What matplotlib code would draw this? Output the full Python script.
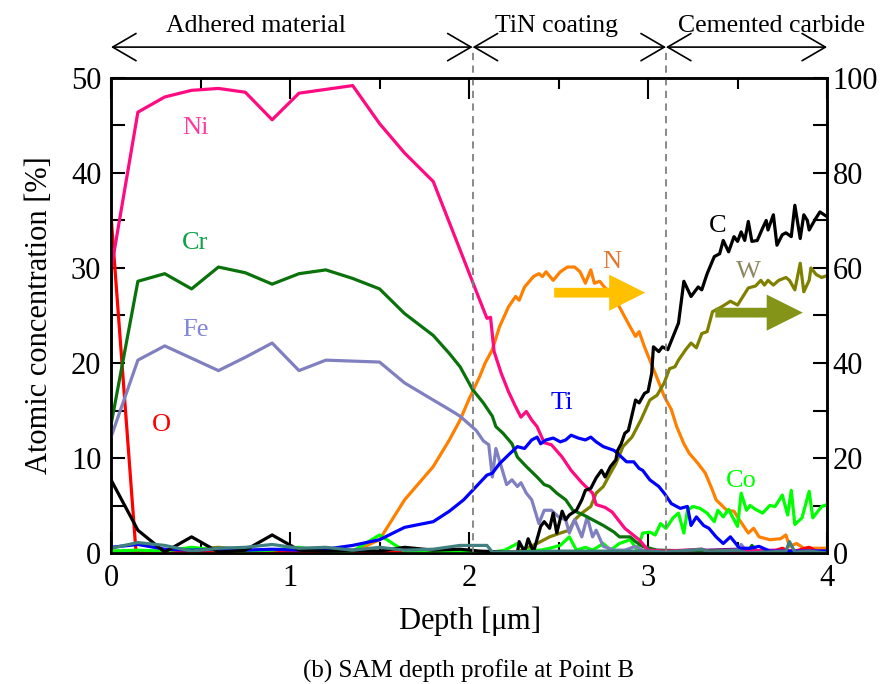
import numpy as np
import matplotlib.pyplot as plt
from matplotlib.ticker import MultipleLocator

plt.rcParams['font.family'] = ['Liberation Serif', 'DejaVu Serif']
plt.rcParams['mathtext.fontset'] = 'custom'
plt.rcParams['mathtext.rm'] = 'Liberation Serif'

# Profiles: [depth (um), atomic concentration (%)]
# left axis (0-50 %)
ni_prof = np.array([[0, 29.8], [0.15, 46.4], [0.30, 48.0], [0.45, 48.7], [0.60, 48.9], [0.75, 48.5],
                    [0.90, 45.6], [1.05, 48.4], [1.20, 48.8], [1.35, 49.2], [1.50, 45.2], [1.64, 42.1],
                    [1.80, 39.1], [1.95, 31.9], [2.06, 26.6], [2.10, 24.7], [2.12, 24.8], [2.14, 21.2],
                    [2.18, 18.9], [2.22, 17.0], [2.26, 15.4], [2.29, 14.3], [2.32, 14.9], [2.35, 14.0],
                    [2.38, 13.3], [2.42, 11.6], [2.46, 11.4], [2.52, 10.1], [2.57, 8.7], [2.63, 7.4],
                    [2.69, 6.3], [2.71, 5.1], [2.76, 4.8], [2.80, 4.3], [2.87, 2.6], [2.95, 1.4],
                    [3.00, 0.3], [3.10, 0.2], [3.30, 0.4], [3.35, 0.1], [3.70, 0.3], [4.00, 0.2]])
cr_prof = np.array([[0, 13.5], [0.15, 28.6], [0.30, 29.4], [0.45, 27.8], [0.60, 30.1], [0.75, 29.5],
                    [0.90, 28.3], [1.05, 29.4], [1.20, 29.8], [1.35, 28.9], [1.50, 27.8], [1.64, 25.2],
                    [1.80, 22.9], [1.89, 21.0], [1.95, 19.6], [2.02, 17.2], [2.08, 15.8], [2.13, 14.4],
                    [2.15, 13.3], [2.19, 12.6], [2.24, 11.5], [2.27, 10.1], [2.32, 9.1], [2.38, 8.0],
                    [2.42, 7.2], [2.45, 7.0], [2.49, 6.3], [2.54, 5.6], [2.58, 4.5], [2.64, 4.0],
                    [2.69, 3.5], [2.75, 2.9], [2.81, 2.2], [2.84, 1.7], [2.90, 1.7], [2.93, 1.2],
                    [2.97, 0.7], [3.05, 0.3], [3.30, 0.2], [3.56, 0.2], [3.58, 0.8], [3.61, 0.1],
                    [4.00, 0.2]])
fe_prof = np.array([[0, 12.2], [0.15, 20.3], [0.30, 21.8], [0.45, 20.5], [0.60, 19.2], [0.75, 20.6],
                    [0.90, 22.1], [1.05, 19.2], [1.20, 20.3], [1.35, 20.2], [1.50, 20.1], [1.64, 17.9],
                    [1.80, 16.1], [1.89, 15.1], [1.95, 14.4], [2.04, 12.9], [2.08, 11.8], [2.11, 11.4],
                    [2.13, 8.0], [2.15, 11.0], [2.18, 9.1], [2.21, 7.2], [2.24, 7.7], [2.27, 7.0],
                    [2.29, 7.4], [2.32, 6.3], [2.35, 5.6], [2.39, 3.1], [2.42, 4.5], [2.46, 4.5],
                    [2.50, 3.8], [2.54, 3.5], [2.56, 2.1], [2.59, 3.5], [2.63, 1.7], [2.66, 3.8],
                    [2.69, 1.7], [2.71, 2.4], [2.75, 0.7], [2.81, 0.3], [2.87, 0.3], [2.93, 0.7],
                    [2.97, 0.3], [3.30, 0.2], [3.50, 0.3], [3.52, 0.9], [3.55, 0.2], [4.00, 0.2]])
o_prof = np.array([[0, 35.5], [0.14, 0.0], [0.30, 0.1], [1.00, 0.1], [2.00, 0.1], [3.00, 0.1],
                   [3.70, 0.2], [3.75, 0.5], [3.80, 0.1], [3.90, 0.6], [3.95, 0.1], [4.00, 0.2]])
c_prof = np.array([[0, 7.7], [0.15, 2.4], [0.30, 0.1], [0.45, 1.7], [0.60, 0.1], [0.75, 0.3],
                   [0.90, 1.9], [1.05, 0.3], [1.20, 0.2], [1.35, 0.3], [1.50, 0.2], [1.64, 0.6],
                   [1.80, 0.3], [1.95, 0.4], [2.06, 0.2], [2.20, 0.1], [2.27, 0.0], [2.28, 1.2],
                   [2.31, 0.1], [2.33, 1.5], [2.36, 0.1], [2.40, 2.8], [2.42, 3.3], [2.45, 2.6],
                   [2.47, 4.2], [2.49, 2.1], [2.52, 4.4], [2.54, 3.5], [2.56, 4.0], [2.60, 4.5],
                   [2.63, 5.6], [2.65, 6.6], [2.68, 6.8], [2.71, 7.9], [2.74, 8.7], [2.76, 8.0],
                   [2.79, 9.1], [2.82, 9.8], [2.83, 10.8], [2.85, 11.5], [2.87, 12.6], [2.89, 12.9],
                   [2.93, 16.1], [2.95, 15.8], [2.98, 16.8], [3.00, 17.0], [3.02, 18.9], [3.03, 21.7],
                   [3.06, 21.2], [3.08, 21.7], [3.11, 21.4], [3.14, 22.8], [3.17, 24.2], [3.20, 28.6],
                   [3.24, 27.0], [3.28, 28.0], [3.30, 27.7], [3.33, 29.4], [3.37, 31.2], [3.40, 31.5],
                   [3.42, 32.9], [3.45, 31.7], [3.48, 33.3], [3.50, 32.8], [3.52, 33.8], [3.54, 32.9],
                   [3.56, 34.9], [3.58, 32.8], [3.61, 32.9], [3.64, 34.2], [3.66, 35.0], [3.67, 34.0],
                   [3.70, 35.6], [3.72, 32.4], [3.75, 33.5], [3.77, 33.7], [3.80, 33.3], [3.82, 36.6],
                   [3.85, 33.1], [3.87, 35.6], [3.89, 35.0], [3.90, 34.0], [3.93, 35.0], [3.96, 35.9],
                   [4.00, 35.4]])
ti_prof = np.array([[0, 0.6], [0.15, 0.9], [0.30, 0.4], [0.45, 0.3], [0.60, 0.4], [0.75, 0.3],
                    [0.90, 0.4], [1.05, 0.3], [1.20, 0.4], [1.35, 0.8], [1.50, 1.4], [1.64, 2.7],
                    [1.80, 3.3], [1.89, 4.4], [1.97, 5.6], [2.04, 7.0], [2.10, 8.2], [2.13, 8.4],
                    [2.17, 9.4], [2.23, 10.5], [2.27, 11.2], [2.31, 11.0], [2.35, 11.9], [2.38, 12.2],
                    [2.40, 11.5], [2.43, 11.9], [2.47, 12.1], [2.51, 11.7], [2.54, 11.9], [2.57, 12.4],
                    [2.61, 12.1], [2.65, 11.9], [2.68, 12.2], [2.71, 11.7], [2.75, 11.2], [2.81, 10.8],
                    [2.84, 10.3], [2.88, 9.6], [2.92, 9.6], [2.95, 8.9], [2.97, 8.7], [3.01, 7.7],
                    [3.06, 7.0], [3.09, 6.3], [3.13, 5.2], [3.18, 4.7], [3.22, 4.9], [3.24, 2.9],
                    [3.27, 3.8], [3.31, 2.9], [3.34, 2.6], [3.38, 1.7], [3.42, 1.0], [3.46, 1.7],
                    [3.49, 1.0], [3.51, 0.5], [3.57, 0.5], [3.62, 0.7], [3.68, 0.2], [4.00, 0.2]])
co_prof = np.array([[0, 0.2], [0.15, 0.3], [0.30, 0.2], [0.45, 0.6], [0.60, 0.3], [0.75, 0.2],
                    [0.90, 0.3], [1.05, 0.6], [1.20, 0.2], [1.35, 0.2], [1.50, 1.9], [1.64, 0.2],
                    [1.80, 0.2], [1.95, 0.1], [2.10, 0.0], [2.20, 0.3], [2.27, 1.0], [2.32, 0.3],
                    [2.40, 0.3], [2.45, 0.5], [2.51, 0.8], [2.56, 1.7], [2.60, 0.3], [2.65, 0.6],
                    [2.69, 0.3], [2.75, 1.0], [2.79, 0.3], [2.84, 1.0], [2.90, 1.4], [2.94, 0.3],
                    [2.97, 2.1], [3.01, 2.2], [3.04, 1.9], [3.07, 3.1], [3.10, 2.6], [3.14, 3.7],
                    [3.17, 4.2], [3.20, 2.1], [3.22, 4.5], [3.25, 4.9], [3.29, 4.7], [3.33, 4.2],
                    [3.37, 3.3], [3.39, 4.5], [3.42, 3.8], [3.45, 4.6], [3.48, 3.5], [3.50, 2.8],
                    [3.52, 6.3], [3.55, 4.5], [3.57, 5.0], [3.60, 4.6], [3.64, 4.2], [3.68, 5.0],
                    [3.71, 4.9], [3.75, 6.1], [3.78, 4.0], [3.80, 6.6], [3.82, 3.0], [3.86, 3.7],
                    [3.90, 6.5], [3.92, 3.7], [3.97, 4.9], [4.00, 5.1]])
teal_prof = np.array([[0, 0.5], [0.15, 1.1], [0.30, 0.8], [0.45, 0.2], [0.60, 0.5], [0.75, 0.6],
                      [0.90, 0.9], [1.05, 0.5], [1.20, 0.6], [1.35, 0.3], [1.50, 0.6], [1.64, 0.3],
                      [1.80, 0.4], [1.95, 0.8], [2.10, 0.8], [2.13, 0.1], [2.50, 0.2], [3.00, 0.2],
                      [3.10, 0.1], [3.30, 0.4], [3.35, 0.1], [3.50, 0.3], [3.55, 0.0], [3.77, 0.2],
                      [3.79, 1.2], [3.82, 0.1], [3.90, 0.2], [4.00, 0.0]])
purple_prof = np.array([[0, 0.1], [0.30, 0.0], [0.60, 0.4], [0.90, 0.1], [1.20, 0.0], [2.00, 0.0],
                        [3.00, 0.1], [3.50, 0.4], [3.55, 0.1], [3.90, 0.2], [4.00, 0.1]])

# right axis (0-100 %)
n_prof = np.array([[0, 0.2], [0.30, 0.2], [0.60, 0.2], [0.90, 0.2], [1.20, 0.2], [1.35, 0.2],
                   [1.50, 2.8], [1.64, 11.2], [1.80, 18.2], [1.89, 23.8], [1.95, 28.0], [2.00, 32.4],
                   [2.06, 37.2], [2.09, 40.0], [2.13, 42.8], [2.17, 47.6], [2.22, 51.8], [2.26, 54.0],
                   [2.28, 53.2], [2.31, 56.0], [2.36, 58.2], [2.39, 58.8], [2.41, 58.2], [2.43, 59.2],
                   [2.47, 57.4], [2.51, 59.2], [2.55, 60.2], [2.59, 60.2], [2.62, 59.2], [2.65, 56.8],
                   [2.68, 59.6], [2.70, 56.8], [2.73, 57.2], [2.76, 55.8], [2.81, 54.4], [2.82, 53.2],
                   [2.86, 50.4], [2.90, 47.6], [2.93, 45.6], [2.95, 46.6], [2.98, 43.4], [3.01, 40.6],
                   [3.04, 37.8], [3.07, 35.0], [3.09, 33.0], [3.13, 30.2], [3.16, 26.6], [3.20, 23.0],
                   [3.23, 21.0], [3.28, 18.8], [3.32, 16.8], [3.36, 13.2], [3.38, 11.2], [3.44, 9.0],
                   [3.48, 8.8], [3.51, 7.0], [3.56, 4.2], [3.59, 5.2], [3.62, 3.4], [3.68, 2.8],
                   [3.74, 3.0], [3.77, 3.8], [3.79, 1.4], [3.83, 2.0], [3.87, 1.0], [3.92, 1.0],
                   [4.00, 1.0]])
w_prof = np.array([[0, 0.4], [0.30, 0.2], [0.60, 1.2], [0.90, 0.2], [1.20, 0.4], [1.50, 0.2],
                   [1.80, 0.2], [2.10, 0.0], [2.27, 0.2], [2.38, 2.0], [2.45, 3.4], [2.51, 4.2],
                   [2.56, 4.8], [2.59, 7.0], [2.63, 8.4], [2.68, 9.8], [2.71, 12.6], [2.75, 14.0],
                   [2.79, 16.8], [2.82, 18.8], [2.86, 22.4], [2.91, 24.4], [2.96, 28.0], [3.01, 32.2],
                   [3.05, 33.2], [3.09, 35.8], [3.12, 38.8], [3.15, 39.2], [3.17, 40.6], [3.21, 42.8],
                   [3.24, 44.2], [3.27, 43.2], [3.30, 46.2], [3.33, 46.6], [3.36, 50.8], [3.41, 51.8],
                   [3.46, 53.0], [3.50, 52.2], [3.53, 54.0], [3.56, 55.8], [3.60, 56.2], [3.63, 57.4],
                   [3.65, 56.4], [3.67, 57.4], [3.70, 56.4], [3.73, 57.4], [3.77, 58.0], [3.79, 57.4],
                   [3.82, 55.4], [3.85, 61.0], [3.87, 55.0], [3.90, 57.4], [3.91, 60.0], [3.94, 58.6],
                   [3.97, 58.0], [4.00, 58.4]])

# Region boundaries, names and label centres
boundaries = [2.02, 3.10]
regions = ['Adhered material', 'TiN coating', 'Cemented carbide']
region_label_x = [0.81, 2.49, 3.69]

fig = plt.figure(figsize=(8.84, 6.84), dpi=100)
ax = fig.add_axes([0.1256, 0.1915, 0.8100, 0.6945])
ax2 = ax.twinx()

lw = 2.3
ax.plot(purple_prof[:, 0], purple_prof[:, 1], color='#800080', lw=lw)
ax.plot(o_prof[:, 0], o_prof[:, 1], color='#ff0000', lw=lw)
ax.plot(co_prof[:, 0], co_prof[:, 1], color='#00ff00', lw=lw)
ax.plot(fe_prof[:, 0], fe_prof[:, 1], color='#8080c0', lw=lw)
ax.plot(cr_prof[:, 0], cr_prof[:, 1], color='#0a720a', lw=lw)
ax.plot(ni_prof[:, 0], ni_prof[:, 1], color='#ff0a80', lw=lw)
ax.plot(ti_prof[:, 0], ti_prof[:, 1], color='#0000ff', lw=lw)
ax.plot(c_prof[:, 0], c_prof[:, 1], color='#000000', lw=lw)
ax2.plot(n_prof[:, 0], n_prof[:, 1], color='#ff8000', lw=lw)
ax2.plot(w_prof[:, 0], w_prof[:, 1], color='#808000', lw=lw)
ax.plot(teal_prof[:, 0], teal_prof[:, 1], color='#408080', lw=lw)
ax.set_zorder(ax2.get_zorder() + 1)
ax.patch.set_visible(False)

ax.set_xlim(0, 4)
ax.set_ylim(0, 50)
ax2.set_ylim(0, 100)

ax.xaxis.set_major_locator(MultipleLocator(1))
ax.xaxis.set_minor_locator(MultipleLocator(0.5))
ax.yaxis.set_major_locator(MultipleLocator(10))
ax.yaxis.set_minor_locator(MultipleLocator(5))
ax2.yaxis.set_major_locator(MultipleLocator(20))
ax2.yaxis.set_minor_locator(MultipleLocator(10))

ax.tick_params(axis='x', which='both', direction='in', top=True, labelsize=22, pad=8)
ax.tick_params(axis='x', which='major', length=15, width=1.5)
ax.tick_params(axis='x', which='minor', length=8, width=1.5)
ax.tick_params(axis='y', which='both', direction='in', right=False, length=10, width=1.5,
               labelsize=22, pad=7)
ax2.tick_params(axis='y', which='both', direction='in', length=10, width=1.5, labelsize=22, pad=4)
for a in (ax, ax2):
    for s in a.spines.values():
        s.set_linewidth(1.8)

ax.set_xlabel('Depth [$\\mathrm{\\mu}$m]', fontsize=22, labelpad=8)
ax.set_ylabel('Atomic concentration [%]', fontsize=22, labelpad=12)
fig.text(0.53, 0.009, '(b) SAM depth profile at Point B', ha='center', va='baseline', fontsize=18)

# element labels
label_style = [('Ni', 0.47, 44.7, '#ff3d9e'), ('Cr', 0.47, 32.6, '#10a048'), ('Fe', 0.47, 23.5, '#8585dc'),
               ('O', 0.28, 13.5, '#ff0000'), ('Ti', 2.52, 15.8, '#0000ff'), ('N', 2.80, 30.6, '#e07830'),
               ('C', 3.39, 34.4, '#000000'), ('W', 3.56, 29.6, '#8c8862'), ('Co', 3.52, 7.6, '#00ff00')]
for name, x, y, col in label_style:
    ax.text(x, y, name, color=col, fontsize=19, ha='center', va='center')

# axis-direction arrows for N and W (right axis)
ax.annotate('', xy=(3.0, 27.4), xytext=(2.46, 27.4),
            arrowprops=dict(arrowstyle='simple,head_length=1.3,head_width=1.3,tail_width=0.35',
                            color='#ffc000', lw=0, mutation_scale=20))
ax.annotate('', xy=(3.88, 25.3), xytext=(3.36, 25.3),
            arrowprops=dict(arrowstyle='simple,head_length=1.3,head_width=1.3,tail_width=0.35',
                            color='#839418', lw=0, mutation_scale=20))

# region markers above the plot
trans = ax.get_xaxis_transform()
edges = [0] + boundaries + [4]
for b in boundaries:
    ax.plot([b, b], [0, 1.065], transform=trans, color='#808080', ls=(0, (4, 3)), lw=1.3, clip_on=False)
for i, name in enumerate(regions):
    ax.annotate('', xy=(edges[i], 1.065), xytext=(edges[i + 1], 1.065), xycoords=trans, textcoords=trans,
                arrowprops=dict(arrowstyle='<->,head_length=0.6,head_width=0.35', color='black', lw=1.2,
                                mutation_scale=28, shrinkA=0, shrinkB=0))
    ax.text(region_label_x[i], 1.097, name, transform=trans, ha='center', va='baseline', fontsize=18.5)

fig.savefig('out.png', dpi=100)
